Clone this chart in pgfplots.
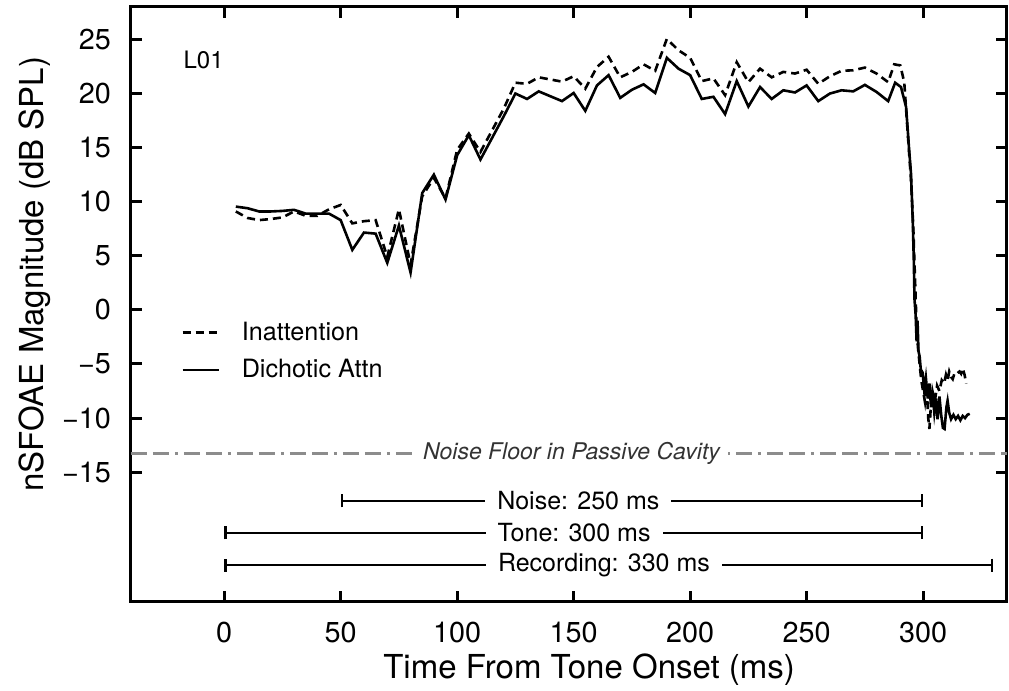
\documentclass[border=0pt]{standalone}
\usepackage{fontspec}
\setmainfont{TeX Gyre Heros}
\usepackage{pgfplots}
\pgfplotsset{compat=1.18}
\usetikzlibrary{arrows.meta}

% Inattention (dashed)
\pgfplotstableread{
x y
5 9.1
10 8.5
15 8.3
20 8.4
25 8.55
30 9.1
35 8.7
40 8.7
45 9.3
50 9.7
55 8.0
60 8.2
65 8.3
70 4.9
75 9.3
80 4.2
85 10.5
90 12.2
95 10.3
100 14.8
105 16.3
110 14.6
115 16.6
120 18.6
125 21.0
130 20.9
135 21.5
140 21.3
145 21.1
150 21.6
155 20.45
160 22.45
165 23.4
170 21.5
175 22.0
180 22.7
185 22.1
190 25.05
195 24.0
200 23.3
205 21.15
210 21.4
215 19.85
220 22.9
225 21.05
230 22.3
235 21.5
240 22.0
245 21.85
250 22.2
255 20.9
260 21.6
265 22.1
270 22.15
275 22.4
280 21.85
285 21.05
287.6 22.7
290.2 22.6
291.9 21.05
293.5 16
294.8 12
295.8 7.5
296.5 3.0
297.2 -1.5
297.8 -3.5
298.5 -5.0
299.2 -6.5
300 -7.5
300.8 -8.5
301.5 -7.0
302.2 -10.0
302.7 -11.0
303.3 -9.0
304 -7.5
305 -8.5
306 -7.0
307 -7.5
308 -6.5
309 -6.8
309.8 -6.0
310.5 -6.5
311.2 -5.7
312 -6.2
312.7 -6.4
313.4 -5.9
314.1 -6.0
315 -5.8
315.6 -5.7
316.3 -5.9
317 -5.4
317.8 -6.0
318.5 -6.8
}\inattn

% Dichotic attention (solid)
\pgfplotstableread{
x y
5 9.55
10 9.4
15 9.1
20 9.1
25 9.15
30 9.25
35 8.9
40 8.9
45 8.9
50 8.3
55 5.55
60 7.15
65 7.05
70 4.35
75 7.8
80 3.45
85 10.8
90 12.5
95 10.2
100 14.3
105 16.15
110 13.9
115 15.9
120 17.9
125 20.0
130 19.5
135 20.2
140 19.75
145 19.3
150 20.05
155 18.4
160 20.75
165 21.7
170 19.6
175 20.35
180 20.85
185 20.05
190 23.3
195 22.3
200 21.7
205 19.5
210 19.7
215 18.1
220 21.15
225 18.8
230 20.6
235 19.5
240 20.3
245 20.1
250 20.75
255 19.3
260 20.0
265 20.3
270 20.2
275 20.8
280 20.15
285 19.3
288 21.0
290.5 20.6
292.7 18.75
294 14.8
294.8 12.6
295.5 8.6
296 4.6
296.3 1.0
296.8 -0.5
297.2 -2.9
297.6 -1.0
298 -3.8
298.5 -4.3
299 -5.5
299.8 -5.8
300.5 -7.5
301.2 -6.3
302 -8.2
302.7 -6.8
303.4 -9.0
304 -7.5
304.8 -9.5
305.5 -8.2
306.2 -10.1
307 -8.0
307.8 -9.8
308.5 -10.9
309.2 -11.0
310 -9.0
310.5 -8.4
311.2 -9.5
312 -10.1
313 -9.7
314 -10.1
315 -9.8
316 -10.2
317 -9.8
318 -10.0
319 -9.7
320 -9.6
}\dichotic

\begin{document}
\begin{tikzpicture}
\useasboundingbox (-65.5pt,-44.5pt) rectangle (439pt,301pt);
\begin{axis}[
  scale only axis, width=438pt, height=297.5pt,
  xmin=-40, xmax=336, ymin=-27, ymax=28,
  xtick={0,50,...,300}, xticklabels={0,50,100,150,200,250,300},
  ytick={-15,-10,...,25}, yticklabels={−15,−10,−5,0,5,10,15,20,25},
  axis line style={line width=1.5pt},
  every tick/.style={black, line width=1.5pt},
  major tick length=5.5pt,
  tick label style={font=\fontsize{14.4}{17}\selectfont},
  xticklabel style={yshift=-6.5pt},
  yticklabel style={xshift=-6.5pt},
  xlabel={Time From Tone Onset (ms)},
  ylabel={nSFOAE Magnitude (dB SPL)},
  every axis x label/.style={at={(axis description cs:0.523,-0.114)}, anchor=center,
    font=\fontsize{16.5}{20}\selectfont},
  every axis y label/.style={at={(axis description cs:-0.1096,0.551)}, anchor=center, rotate=90,
    font=\fontsize{16.5}{20}\selectfont},
  legend style={draw=none, fill=none, at={(0.05,0.485)}, anchor=north west,
    font=\fontsize{12.6}{15}\selectfont, row sep=4pt, column sep=9pt},
  legend cell align=left,
  legend image code/.code={\draw[#1] (0pt,0pt) -- (18pt,0pt);},
]
\addplot[black, line width=1.3pt, dash pattern=on 4pt off 2.5pt] table {\inattn};
\addlegendentry{Inattention}
\addplot[black, line width=1.3pt] table {\dichotic};
\addlegendentry{Dichotic Attn}

% noise floor
\addplot[black!45, line width=1.3pt, dash pattern=on 8pt off 3pt on 8pt off 3pt on 1.5pt off 3pt, forget plot]
  coordinates {(-40,-13.25) (336,-13.25)};
\node[fill=white, inner xsep=4pt, inner ysep=1pt, font=\fontsize{11.5}{14}\selectfont\itshape, text=black!80]
  at (axis cs:149.1,-13.25) {Noise Floor in Passive Cavity};

% stimulus timing bars
\addplot[black, line width=1.2pt, {Bar[width=6.5pt]}-{Bar[width=6.5pt]}, forget plot]
  coordinates {(50,-17.66) (300,-17.66)};
\addplot[black, line width=1.2pt, {Bar[width=6.5pt]}-{Bar[width=6.5pt]}, forget plot]
  coordinates {(0,-20.6) (300,-20.6)};
\addplot[black, line width=1.2pt, {Bar[width=6.5pt]}-{Bar[width=6.5pt]}, forget plot]
  coordinates {(0,-23.6) (330,-23.6)};
\node[fill=white, inner xsep=6pt, inner ysep=1pt, font=\fontsize{12.5}{15}\selectfont]
  at (axis cs:152,-17.66) {Noise: 250 ms};
\node[fill=white, inner xsep=6pt, inner ysep=1pt, font=\fontsize{12.5}{15}\selectfont]
  at (axis cs:150.2,-20.6) {Tone: 300 ms};
\node[fill=white, inner xsep=6pt, inner ysep=1pt, font=\fontsize{12.5}{15}\selectfont]
  at (axis cs:163,-23.6) {Recording: 330 ms};

\node[anchor=west, inner sep=0pt, font=\fontsize{12}{14}\selectfont] at (axis cs:-17.6,23.15) {L01};
\end{axis}
\end{tikzpicture}
\end{document}
